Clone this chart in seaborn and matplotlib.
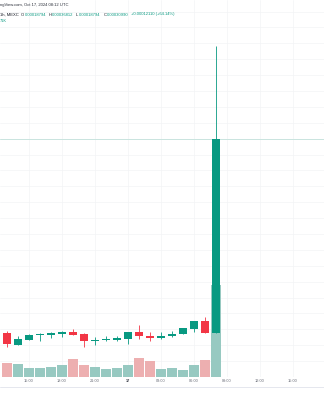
import numpy as np
import pandas as pd
import matplotlib
matplotlib.use("Agg")
import matplotlib.pyplot as plt
import seaborn as sns
from matplotlib.lines import Line2D

# ---------------- data ----------------
times = ["2024-10-16 13:00", "2024-10-16 14:00", "2024-10-16 15:00", "2024-10-16 16:00",
         "2024-10-16 17:00", "2024-10-16 18:00", "2024-10-16 19:00", "2024-10-16 20:00",
         "2024-10-16 21:00", "2024-10-16 22:00", "2024-10-16 23:00", "2024-10-17 00:00",
         "2024-10-17 01:00", "2024-10-17 02:00", "2024-10-17 03:00", "2024-10-17 04:00",
         "2024-10-17 05:00", "2024-10-17 06:00", "2024-10-17 07:00", "2024-10-17 08:00"]
opens = [0.00018794, 0.00018070, 0.00018373, 0.00018649, 0.00018668, 0.00018750, 0.00018838,
         0.00018731, 0.00018310, 0.00018335, 0.00018354, 0.00018436, 0.00018857, 0.00018624,
         0.00018498, 0.00018587, 0.00018750, 0.00019064, 0.00019548, 0.00018794]
highs = [0.00018920, 0.00018605, 0.00018712, 0.00018813, 0.00018838, 0.00018920, 0.00019064,
         0.00018775, 0.00018524, 0.00018587, 0.00018605, 0.00018857, 0.00019278, 0.00018876,
         0.00018838, 0.00018901, 0.00019108, 0.00019567, 0.00019819, 0.00036812]
lows = [0.00017933, 0.00018050, 0.00018354, 0.00018291, 0.00018461, 0.00018543, 0.00018649,
        0.00017895, 0.00018021, 0.00018272, 0.00018291, 0.00018121, 0.00018417, 0.00018272,
        0.00018417, 0.00018561, 0.00018750, 0.00018876, 0.00018794, 0.00018794]
closes = [0.00018084, 0.00018398, 0.00018668, 0.00018687, 0.00018794, 0.00018857, 0.00018687,
          0.00018310, 0.00018354, 0.00018417, 0.00018480, 0.00018838, 0.00018605, 0.00018498,
          0.00018624, 0.00018750, 0.00019089, 0.00019548, 0.00018800, 0.00030990]
volumes_k = [140, 124, 84, 84, 100, 114, 177, 117, 100, 77, 90, 117,
             187, 153, 77, 87, 67, 117, 167, 917]

tick_times = ["2024-10-16 15:00", "2024-10-16 18:00", "2024-10-16 21:00", "2024-10-17 00:00",
              "2024-10-17 03:00", "2024-10-17 06:00", "2024-10-17 09:00", "2024-10-17 12:00",
              "2024-10-17 15:00"]
tick_labels = ["15:00", "18:00", "21:00", "17", "03:00", "06:00", "09:00", "12:00", "15:00"]

header_top = "ngView.com, Oct 17, 2024 08:12 UTC"
header_prefix = "1h, MEXC"
ohlc_keys = ["O", "H", "L", "C"]
change_text = "+0.00012110 (+64.14%)"
vol_text = "71K"

# ---------------- styling ----------------
UP = "#089981"
DOWN = "#F23645"
UP_VOL = "#8fd1c7"
DOWN_VOL = "#f7a5a6"
TEXT = "#131722"
GRID = "#f3f4f6"
FONT = ["Liberation Sans", "DejaVu Sans"]

sns.set_theme(style="white")
plt.rcParams["font.family"] = FONT

t0 = pd.Timestamp("2024-10-16 12:00")
df = pd.DataFrame({"time": pd.to_datetime(times), "open": opens, "high": highs,
                   "low": lows, "close": closes, "volume": volumes_k})
df["x"] = (df["time"] - t0) / pd.Timedelta(hours=1)
df["dir"] = np.where(df["close"] >= df["open"], "up", "down")
tick_x = [(pd.Timestamp(t) - t0) / pd.Timedelta(hours=1) for t in tick_times]

W, H = 324, 400
PRICE_LIM = (0.00016028, 0.0003973)
VOL_LIM = (0, 3770)
X_LIM = (0.38, 29.84)

fig = plt.figure(figsize=(W / 100, H / 100), dpi=100)
ax_vol = fig.add_axes([0, 23 / H, 1, 377 / H])
ax = ax_vol.twinx()

# volume (behind)
sns.barplot(data=df, x="x", y="volume", hue="dir", palette={"up": UP_VOL, "down": DOWN_VOL},
            native_scale=True, dodge=False, width=0.94, linewidth=0, legend=False, ax=ax_vol)
ax_vol.set_ylim(*VOL_LIM)
ax_vol.set_xlim(*X_LIM)

# grid drawn in the back axes, at price levels every 0.00001
price_levels = np.arange(0.00016, 0.00040, 0.00001)
grid_pos = (price_levels - PRICE_LIM[0]) / (PRICE_LIM[1] - PRICE_LIM[0]) * VOL_LIM[1]
ax_vol.set_axisbelow(True)
ax_vol.set_yticks(grid_pos)
ax_vol.set_yticklabels([])
ax_vol.tick_params(axis="y", length=0)
ax_vol.set_xticks(tick_x)
ax_vol.set_xticklabels(tick_labels)
ax_vol.grid(True, color=GRID, linewidth=0.5)
ax_vol.tick_params(axis="x", length=0, pad=1.6, labelsize=2.8, labelcolor="#6a6d78")
for lbl in ax_vol.get_xticklabels():
    if lbl.get_text() == "17":
        lbl.set_fontweight("bold")
        lbl.set_color("#3a3d48")

# candles
colors = df["dir"].map({"up": UP, "down": DOWN})
ax.vlines(df["x"], df["low"], df["high"], colors=colors, linewidth=0.6, zorder=3)
body_low = np.minimum(df["open"], df["close"])
body_h = np.maximum(np.abs(df["close"] - df["open"]), 6e-7)
ax.bar(df["x"], body_h, bottom=body_low, width=0.76, color=colors, linewidth=0, zorder=4)
ax.axhline(closes[-1], color="#c9e4df", linewidth=0.7, zorder=2)

ax.set_ylim(*PRICE_LIM)
ax.set_xlim(*X_LIM)
ax.grid(False)
ax.set_yticks([])
ax.tick_params(axis="y", length=0, right=False, labelright=False)

ax_vol.set_xlabel("")
ax_vol.set_ylabel("")
ax.set_ylabel("")
for a in (ax, ax_vol):
    for s in a.spines.values():
        s.set_visible(False)

fig.add_artist(Line2D([0, 1], [1 - 387 / H] * 2, color="#e0e3eb", linewidth=0.6))

# header
renderer = fig.canvas.get_renderer()

def ftxt(xp, yp, s, color=TEXT, size=3.0, weight="normal"):
    t = fig.text(xp / W, 1 - yp / H, s, color=color, fontsize=size, ha="left", va="center",
                 fontweight=weight)
    return t.get_window_extent(renderer).width

ftxt(0, 5, header_top, color="#2a2e39", size=3.0)
ftxt(0, 14.5, header_prefix, color=TEXT, size=3.0)
vals = [opens[-1], highs[-1], lows[-1], closes[-1]]
for i, (k, v) in enumerate(zip(ohlc_keys, vals)):
    x0 = 21 + 27.5 * i
    wk = ftxt(x0, 14.5, k, color=TEXT, size=3.0)
    ftxt(x0 + wk + 0.3, 14.5, f"{v:.8f}", color=UP, size=3.0)
ftxt(131, 14.5, change_text, color=UP, size=3.0)
ftxt(0, 20.5, vol_text, color=UP, size=2.8)

fig.savefig("out.png", dpi=100)
